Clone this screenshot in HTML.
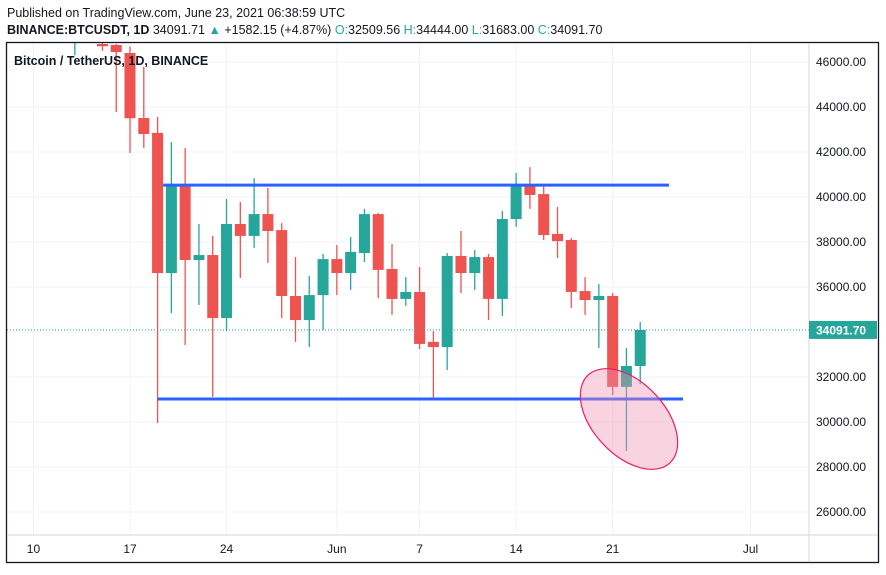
<!DOCTYPE html>
<html><head><meta charset="utf-8"><style>
html,body{margin:0;padding:0;background:#fff;}
body{width:886px;height:570px;overflow:hidden;font-family:"Liberation Sans",sans-serif;}
svg text{font-family:"Liberation Sans",sans-serif;}
</style></head><body>
<svg id="chart" width="886" height="570" xmlns="http://www.w3.org/2000/svg">
<text x="7" y="17" font-size="12.5" fill="#131722">Published on TradingView.com, June 23, 2021 06:38:59 UTC</text>
<text x="7" y="34" font-size="12.5" fill="#131722"><tspan font-weight="bold">BINANCE:BTCUSDT, 1D</tspan> 34091.71 <tspan fill="#26a69a">▲</tspan> +1582.15 (+4.87%) <tspan fill="#26a69a">O:</tspan>32509.56 <tspan fill="#26a69a">H:</tspan>34444.00 <tspan fill="#26a69a">L:</tspan>31683.00 <tspan fill="#26a69a">C:</tspan>34091.70</text>
<g id="grid"></g>
<g id="candles"></g>
<g id="overlay"></g>
<rect x="6.5" y="42.5" width="872" height="520" fill="none" stroke="#131722" stroke-width="1.3"/>
<line x1="809" y1="43" x2="809" y2="562" stroke="#d1d4dc"/>
<line x1="7" y1="535" x2="878" y2="535" stroke="#d1d4dc"/>
<text x="14" y="65" font-size="12.5" font-weight="bold" fill="#131722">Bitcoin / TetherUS, 1D, BINANCE</text>
</svg>
<script>
const days=["5-13","5-15","5-16","5-17","5-18","5-19","5-20","5-21","5-22","5-23","5-24","5-25","5-26","5-27","5-28","5-29","5-30","5-31","6-1","6-2","6-3","6-4","6-5","6-6","6-7","6-8","6-9","6-10","6-11","6-12","6-13","6-14","6-15","6-16","6-17","6-18","6-19","6-20","6-21","6-22","6-23"];
const dayIdx=[-4,-2,-1,0,1,2,3,4,5,6,7,8,9,10,11,12,13,14,15,16,17,18,19,20,21,22,23,24,25,26,27,28,29,30,31,32,33,34,35,36,37];
const opens=[47000,46800,46756,46400,43510,42850,36620,40530,37200,37420,34620,38800,38270,39240,38530,35600,34530,35640,37240,36620,37510,39240,36800,35470,35780,33560,33330,37380,36620,37330,35470,39020,40490,40130,38360,38090,35820,35420,35600,31560,32490];
const highs=[48000,46900,46800,46700,45780,43560,42440,42180,38800,38270,39910,39780,40840,40400,38840,37330,36490,37470,37870,38220,39470,39290,37910,36440,36890,34040,37510,38490,37640,37470,39380,41070,41330,40530,39560,38180,36440,36130,35730,33290,34440];
const lows=[46300,46500,43778,41960,42180,29950,34840,33420,35200,31110,34040,36400,37730,37070,34620,33560,33330,34090,35640,35870,37110,35510,34760,35160,33240,30980,32310,35730,35870,34530,34710,38670,39470,38090,37290,35070,34760,33290,31200,28710,31680];
const closes=[47600,46700,46444,43500,42800,36620,40530,37200,37420,34620,38800,38270,39240,38490,35600,34530,35640,37240,36620,37560,39240,36760,35470,35780,33470,33330,37380,36620,37330,35470,39020,40490,40090,38310,38040,35780,35420,35600,31560,32490,34090];
const priceTicks=[26000,28000,30000,32000,34000,36000,38000,40000,42000,44000,46000];
const timeLabels=["10","17","24","Jun","7","14","21","Jul"];
const timeLabelIdx=[-7,0,7,15,21,28,35,45];
const supportLevels=[40530,31020];
const lastPrice=34091.7;
const NS="http://www.w3.org/2000/svg";
function y(p){return 62+(46000-p)*0.0225;}
function x(i){return 130+i*13.79;}
function el(t,a,parent){const e=document.createElementNS(NS,t);for(const k in a)e.setAttribute(k,a[k]);parent.appendChild(e);return e;}
const grid=document.getElementById('grid');
const svg=document.getElementById('chart');
priceTicks.forEach(p=>{
  const l=el('line',{x1:7,x2:809,y1:y(p),y2:y(p),stroke:'#f0f3fa'},grid);
  
  
  if(p<=46000){const t=el('text',{x:816,y:y(p)+4,'font-size':12,fill:'#131722'},svg);t.textContent=p.toFixed(2);
  
  }
});
timeLabels.forEach((s,i)=>{
  const xx=x(timeLabelIdx[i]);
  const l=el('line',{x1:xx,x2:xx,y1:43,y2:535,stroke:'#f0f3fa'},grid);
  
  
  const t=el('text',{x:xx,y:553,'font-size':12,fill:'#131722','text-anchor':'middle'},svg);t.textContent=s;
  
  
});
const cg=document.getElementById('candles');
const clip=el('clipPath',{id:'pc'},svg);el('rect',{x:7,y:43,width:802,height:492},clip);
cg.setAttribute('clip-path','url(#pc)');
opens.forEach((o,i)=>{
  const c=closes[i],up=c>=o,col=up?'#26a69a':'#ef5350',cx=x(dayIdx[i]);
  const g=el('g',{},cg);
  
  
  el('line',{x1:cx,x2:cx,y1:y(highs[i]),y2:y(lows[i]),stroke:col,'stroke-width':1.3},g);
  const t=y(Math.max(o,c)),b=y(Math.min(o,c));
  el('rect',{x:cx-5.5,y:t,width:11,height:Math.max(b-t,1.5),fill:col},g);
});
const ov=document.getElementById('overlay');
const ly=y(lastPrice);
const dl=el('line',{x1:7,x2:809,y1:ly,y2:ly,stroke:'#26a69a','stroke-dasharray':'1 2'},ov);


const hl1=el('line',{x1:x(2.4),x2:669,y1:y(supportLevels[0]),y2:y(supportLevels[0]),stroke:'#2962ff','stroke-width':3},ov);


const hl2=el('line',{x1:x(2),x2:683,y1:y(supportLevels[1]),y2:y(supportLevels[1]),stroke:'#2962ff','stroke-width':3},ov);


const ell=el('ellipse',{cx:629,cy:419,rx:60,ry:36,transform:'rotate(47 629 419)',fill:'rgba(242,145,178,0.4)',stroke:'#e91e63','stroke-width':1.2},ov);


const lb=el('rect',{x:809,y:ly-9,width:68,height:18,fill:'#26a69a'},svg);


const lt=el('text',{x:816,y:ly+4.5,'font-size':12,'font-weight':'bold',fill:'#fff'},svg);lt.textContent=lastPrice.toFixed(2);


</script>
</body></html>
